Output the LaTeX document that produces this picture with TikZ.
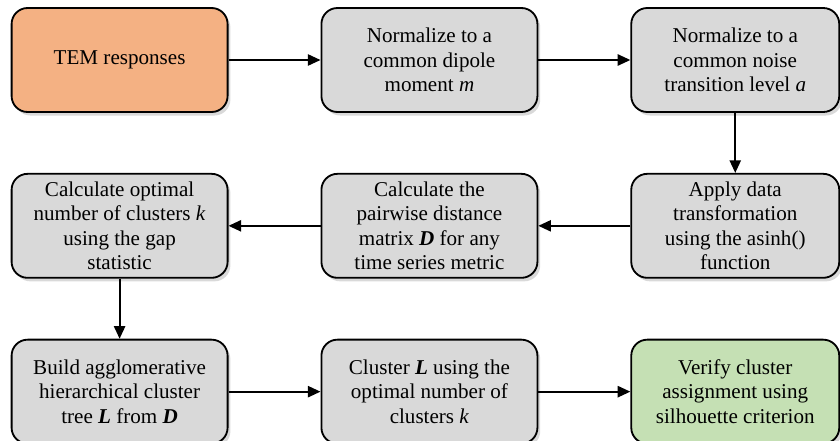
\documentclass[tikz,border=0pt]{standalone}
\usepackage{fontspec}
\setmainfont{Liberation Serif}
\usetikzlibrary{positioning, shadows, arrows.meta}
\definecolor{temorange}{HTML}{F4B183}
\definecolor{stepgray}{HTML}{D9D9D9}
\definecolor{verifygreen}{HTML}{C5E0B4}
\tikzstyle{arrow} = [line width=1.3pt,-{Triangle[length=9pt,width=8pt]}]

\begin{document}
\begin{tikzpicture}[node distance=2.3cm,
            stage/.style={rectangle, rounded corners=0.4cm, minimum width=5.4cm, minimum height=2.6cm, inner sep=2pt, text centered, draw=black, line width=1.3pt, fill=stepgray, font=\fontsize{15}{17.3}\selectfont, align=center, drop shadow={shadow xshift=2pt, shadow yshift=-2.5pt, opacity=0.3}}]

            \useasboundingbox (0,0) rectangle (21,-11.025);

            % Normalization
            \node[stage, fill=temorange] (tem) at (2.99,-1.5) {TEM responses};
            \node[stage, right=2.3cm of tem] (dipole) {Normalize to a\\common dipole\\moment \textit{m}};
            \node[stage, minimum width=5.2cm, right=2.3cm of dipole] (noise) {Normalize to a\\common noise\\transition level \textit{a}};

            % Transformation and distances
            \node[stage, minimum width=5.2cm, below=1.5cm of noise] (asinh) {Apply data\\transformation\\using the asinh()\\function};
            \node[stage, below=1.5cm of dipole] (dist) {Calculate the\\pairwise distance\\matrix \textbf{\textit{D}} for any\\time series metric};
            \node[stage, below=1.5cm of tem] (gap) {Calculate optimal\\number of clusters \textit{k}\\using the gap\\statistic};

            % Clustering
            \node[stage, below=1.5cm of gap] (tree) {Build agglomerative\\hierarchical cluster\\tree \textbf{\textit{L}} from \textbf{\textit{D}}};
            \node[stage, below=1.5cm of dist] (clus) {Cluster \textbf{\textit{L}} using the\\optimal number of\\clusters \textit{k}};
            \node[stage, fill=verifygreen, minimum width=5.2cm, below=1.5cm of asinh] (verify) {Verify cluster\\assignment using\\silhouette criterion};

            % Arrows
            \draw[arrow] (tem) -- (dipole);
            \draw[arrow] (dipole) -- (noise);
            \draw[arrow] (noise) -- (asinh);
            \draw[arrow] (asinh) -- (dist);
            \draw[arrow] (dist) -- (gap);
            \draw[arrow] (gap) -- (tree);
            \draw[arrow] (tree) -- (clus);
            \draw[arrow] (clus) -- (verify);
        \end{tikzpicture}
\end{document}
